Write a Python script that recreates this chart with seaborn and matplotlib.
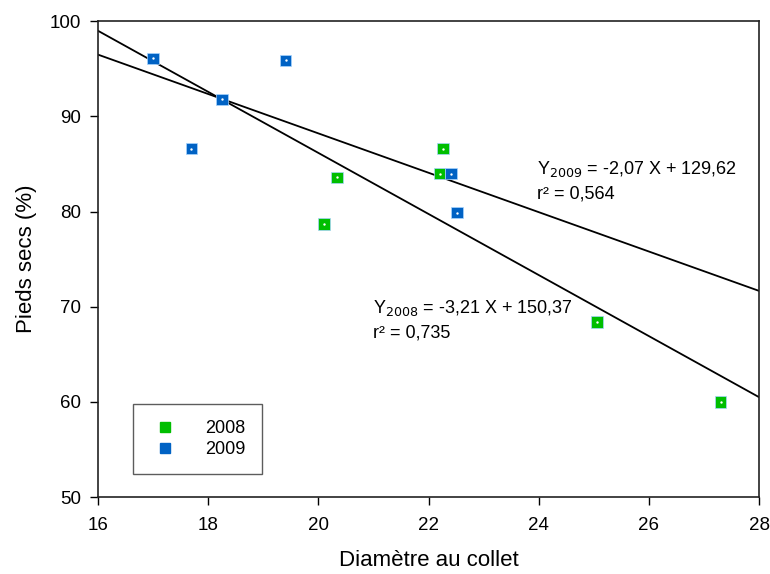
import numpy as np
import pandas as pd
import seaborn as sns
import matplotlib
matplotlib.use('Agg')
import matplotlib.pyplot as plt
from matplotlib.lines import Line2D

sns.set_theme(style='ticks')
plt.rcParams['font.family'] = ['Liberation Sans', 'DejaVu Sans']
plt.rcParams['text.color'] = 'black'
plt.rcParams['axes.labelcolor'] = 'black'

# Data
x_2008 = [20.10, 20.34, 22.26, 22.20, 25.06, 27.30]
y_2008 = [78.7, 83.6, 86.6, 84.0, 68.4, 60.0]
x_2009 = [17.00, 17.70, 18.25, 19.41, 22.41, 22.52]
y_2009 = [96.1, 86.6, 91.8, 95.9, 84.0, 79.9]

# Regression coefficients (slope, intercept) given on the chart
fit_2008 = (-3.21, 150.37)
fit_2009 = (-2.07, 129.62)

df = pd.DataFrame({
    'diam': x_2008 + x_2009,
    'secs': y_2008 + y_2009,
    'annee': ['2008'] * len(x_2008) + ['2009'] * len(x_2009),
})

palette = {'2008': '#00BE00', '2009': '#0062C4'}

fig, ax = plt.subplots(figsize=(7.7, 5.74), dpi=100)
fig.subplots_adjust(left=0.127, right=0.986, top=0.963, bottom=0.134)

# regression lines over the whole axis range
xs = np.array([16, 28])
for slope, icpt in (fit_2008, fit_2009):
    ax.plot(xs, slope * xs + icpt, color='black', lw=1.3, zorder=2)

sns.scatterplot(data=df, x='diam', y='secs', hue='annee', palette=palette,
                marker='s', s=68, edgecolor='#a8d4ff', linewidth=0.5,
                ax=ax, zorder=3, legend=False)
# small white dot in the middle of each marker
ax.scatter(df['diam'], df['secs'], s=3, color='white', zorder=4, linewidths=0)

# legend by hand
handles = [Line2D([], [], ls='none', marker='s', ms=7, mfc=palette[k],
                  mec=palette[k]) for k in ['2008', '2009']]
leg = ax.legend(handles, ['2008', '2009'], loc='lower left',
                bbox_to_anchor=(0.053, 0.048), fontsize=13, frameon=True,
                fancybox=False, edgecolor='#333333', handletextpad=1.3,
                handlelength=1.8, borderpad=0.9, labelspacing=0.2,
                borderaxespad=0)
leg.get_frame().set_linewidth(1.0)
leg.get_frame().set_facecolor('white')

ax.text(20.99, 69.3, r'Y$_{2008}$ = -3,21 X + 150,37', fontsize=13)
ax.text(20.99, 66.8, 'r² = 0,735', fontsize=13)
ax.text(23.96, 83.9, r'Y$_{2009}$ = -2,07 X + 129,62', fontsize=13)
ax.text(23.96, 81.4, 'r² = 0,564', fontsize=13)

ax.set_xlim(16, 28)
ax.set_ylim(50, 100)
ax.set_xticks(range(16, 29, 2))
ax.set_yticks(range(50, 101, 10))
ax.tick_params(direction='out', length=6, width=1, labelsize=13.5,
               colors='black')
ax.tick_params(axis='x', pad=8)
ax.tick_params(axis='y', pad=6)
ax.set_xlabel('Diamètre au collet', fontsize=16, labelpad=12)
ax.set_ylabel('Pieds secs (%)', fontsize=16, labelpad=9)
for sp in ax.spines.values():
    sp.set_visible(True)
    sp.set_color('#222222')
    sp.set_linewidth(1.2)
ax.grid(False)

plt.savefig('out.png', dpi=100)
